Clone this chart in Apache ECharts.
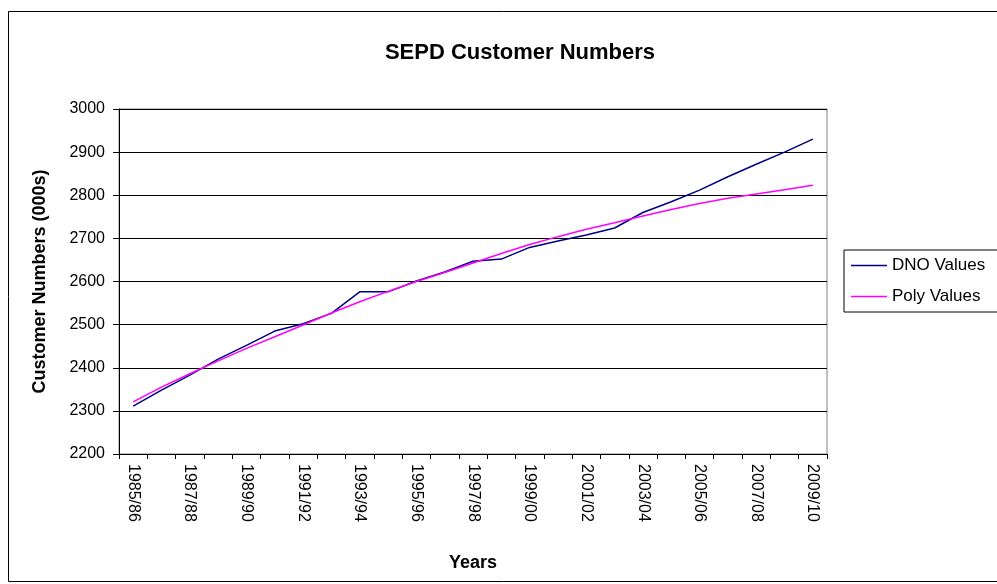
<!DOCTYPE html>
<html><head><meta charset="utf-8">
<script src="https://cdn.jsdelivr.net/npm/echarts@6/dist/echarts.min.js"></script>
<style>html,body{margin:0;padding:0;background:#fff}#c{width:997px;height:584px}</style>
</head><body><div id="c"></div>
<script>
const categories = ['1985/86','1986/87','1987/88','1988/89','1989/90','1990/91','1991/92','1992/93','1993/94','1994/95','1995/96','1996/97','1997/98','1998/99','1999/00','2000/01','2001/02','2002/03','2003/04','2004/05','2005/06','2006/07','2007/08','2008/09','2009/10'];
const dnoValues = [2311,2348,2383,2420,2452,2485,2502,2526,2576,2576,2601,2622,2647,2652,2679,2694,2708,2724,2760,2785,2812,2843,2872,2900,2930];
const polyValues = [2321,2355,2386,2416,2445,2472,2499,2527,2553,2577,2600,2621,2643,2665,2686,2704,2721,2736,2752,2767,2781,2793,2803,2813,2823];
const yMin = 2200, yMax = 3000, yStep = 100;

const FONT = 'Liberation Sans, Arial, sans-serif';
const chart = echarts.init(document.getElementById('c'), null, {renderer: 'canvas'});
chart.setOption({
  animation: false,
  backgroundColor: '#fff',
  textStyle: {fontFamily: FONT, color: '#000'},
  title: {
    text: 'SEPD Customer Numbers',
    left: 515, top: 37, textAlign: 'center',
    textStyle: {fontFamily: FONT, fontSize: 22, fontWeight: 'bold', color: '#000'}
  },
  graphic: [{
    type: 'rect', z: -10, silent: true,
    shape: {x: 8.5, y: 11.5, width: 1000, height: 570},
    style: {fill: 'none', stroke: '#000', lineWidth: 1}
  }],
  legend: {
    orient: 'vertical', left: 844, top: 250,
    icon: 'rect',
    itemWidth: 36, itemHeight: 1.5, itemGap: 14,
    borderColor: '#000', borderWidth: 1,
    padding: [7, 30, 7, 7],
    textStyle: {fontFamily: FONT, fontSize: 17, color: '#000'},
    data: ['DNO Values', 'Poly Values']
  },
  grid: {
    left: 119, right: 170, top: 109, bottom: 130,
    show: true, borderColor: '#808080', borderWidth: 1
  },
  xAxis: {
    type: 'category', data: categories, boundaryGap: true,
    name: 'Years', nameLocation: 'middle', nameGap: 100,
    nameTextStyle: {fontFamily: FONT, fontSize: 18, fontWeight: 'bold', color: '#000'},
    axisLine: {lineStyle: {color: '#000', width: 1}},
    axisTick: {show: true, interval: 0, length: 5, lineStyle: {color: '#000'}},
    axisLabel: {interval: 1, rotate: -90, fontSize: 16, color: '#000', margin: 10, fontFamily: FONT},
    splitLine: {show: false}
  },
  yAxis: {
    type: 'value', min: yMin, max: yMax, interval: yStep,
    name: 'Customer Numbers (000s)', nameLocation: 'middle', nameGap: 70, nameRotate: 90,
    nameTextStyle: {fontFamily: FONT, fontSize: 18, fontWeight: 'bold', color: '#000'},
    axisLine: {show: true, lineStyle: {color: '#000', width: 1}},
    axisTick: {show: true, length: 6, lineStyle: {color: '#000'}},
    axisLabel: {fontSize: 16, color: '#000', margin: 14, fontFamily: FONT,
                formatter: function (v) { return String(v); }},
    splitLine: {show: true, lineStyle: {color: '#000', width: 1}}
  },
  series: [
    {name: 'DNO Values', type: 'line', data: dnoValues, symbol: 'none',
     lineStyle: {color: '#000080', width: 1.5}, itemStyle: {color: '#000080'}},
    {name: 'Poly Values', type: 'line', data: polyValues, symbol: 'none',
     lineStyle: {color: '#FF00FF', width: 1.5}, itemStyle: {color: '#FF00FF'}}
  ]
});
</script></body></html>
